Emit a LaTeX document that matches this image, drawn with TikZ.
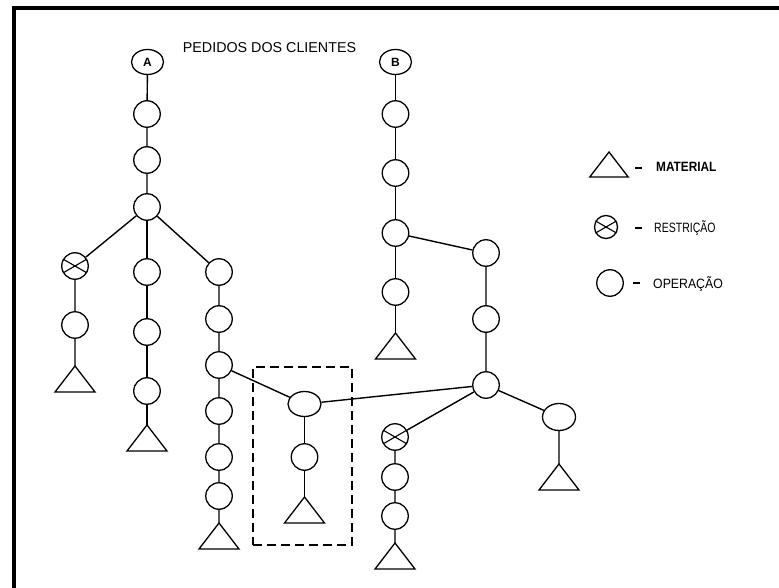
\documentclass[tikz,border=0pt]{standalone}
\usepackage{fontspec}
\setmainfont{Liberation Sans}
\usetikzlibrary{shapes.geometric}
\begin{document}
\begin{tikzpicture}[x=1pt,y=-1pt,
  link/.style={line width=1.4pt},
  op/.style={circle,draw,line width=1.3pt,minimum size=26.5pt,inner sep=0pt},
  opwide/.style={ellipse,draw,line width=1.3pt,minimum width=33pt,minimum height=25pt,inner sep=0pt},
  order/.style={ellipse,draw,line width=1.3pt,minimum width=32pt,minimum height=25pt,inner sep=0pt,
    font=\fontsize{12}{14}\selectfont\bfseries},
  legtext/.style={anchor=west,inner sep=0pt},
  legdash/.style={line width=2.6pt},
  material/.pic={\draw[line width=1.3pt,line join=miter] (0,0) -- (-20,26) -- (20,26) -- cycle;},
]
\useasboundingbox (0,0) rectangle (779,588);
% frame (top and left edges only)
\fill (12,6) rectangle (779,10);
\fill (12,6) rectangle (16,588);

% title
\node[font=\fontsize{14.3}{16}\selectfont,inner sep=0pt] (title) at (269.5,48) {PEDIDOS DOS CLIENTES};

% ---------- order A ----------
\node[order] (A) at (147.5,62) {A};
\node[op] (a1) at (147,114) {};
\node[op] (a2) at (147,160) {};
\node[op] (a3) at (147,207) {};
% left branch
\node[op] (ra) at (75,266) {};
\node[op] (a4) at (75,325) {};
\coordinate (ta1) at (75,366);
% middle branch
\node[op] (a5) at (147,272) {};
\node[op] (a6) at (147,332) {};
\node[op] (a7) at (147,391) {};
\coordinate (ta2) at (147,425);
% right branch
\node[op] (a8) at (219,272) {};
\node[op] (a9) at (219,319) {};
\node[op] (a10) at (219,365) {};
\node[op] (a11) at (219,411) {};
\node[op] (a12) at (219,457) {};
\node[op] (a13) at (219,496) {};
\coordinate (ta3) at (219,523);

% shared part inside the dashed box
\node[draw,line width=2pt,dash pattern=on 9pt off 5pt,minimum width=99pt,minimum height=178pt,inner sep=0pt]
  (grp) at (302.5,456) {};
\node[opwide] (e1) at (304.5,404) {};
\node[op] (c1) at (304.5,457) {};
\coordinate (tc) at (304.5,497);

% ---------- order B ----------
\node[order] (B) at (395.5,62) {B};
\node[op] (b1) at (395.5,114) {};
\node[op] (b2) at (395.5,173) {};
\node[op] (b3) at (395.5,233) {};
\node[op] (b4) at (395.5,292) {};
\coordinate (tb1) at (395.5,333);
\node[op] (b5) at (486,253) {};
\node[op] (b6) at (486,319) {};
\node[op] (j) at (486,385) {};
\node[op] (rb) at (395,437) {};
\node[op] (b7) at (395,477) {};
\node[op] (b8) at (395,516) {};
\coordinate (tb2) at (395,543);
\node[opwide,minimum height=27pt] (e2) at (559,417) {};
\coordinate (tb3) at (559,464);

% ---------- legend ----------
\coordinate (tl) at (609,152);
\draw[legdash] (635,168) -- (642,168);
\node[legtext,font=\fontsize{13.5}{15}\selectfont\bfseries] (lmat) at (656,167)
  {\scalebox{0.875}[1]{MATERIAL}};
\node[op,minimum size=23pt] (rl) at (606,227) {};
\draw[legdash] (635,228) -- (642,228);
\node[legtext,font=\fontsize{13.5}{15}\selectfont] (lres) at (654,228)
  {\scalebox{0.78}[1]{RESTRIÇÃO}};
\node[op] (ol) at (610,283) {};
\draw[legdash] (633,283) -- (640,283);
\node[legtext,font=\fontsize{13.5}{15}\selectfont] (lop) at (653,284.5)
  {\scalebox{0.91}[1]{OPERAÇÃO}};

% materials
\foreach \t in {ta1,ta2,ta3,tc,tb1,tb2,tb3}
  \pic at (\t) {material};
\pic[scale=0.96] at (tl) {material};

% restriction crosses
\foreach \n in {ra,rb,rl}
  \draw[line width=1.1pt] (\n.150) -- (\n.-30) (\n.210) -- (\n.30);

% connectors
\draw[link] (A) -- (a1) -- (a2) -- (a3);
\draw[link] (a3) -- (ra) -- (a4) -- (ta1);
\draw[link] (a3) -- (a5) -- (a6) -- (a7) -- (ta2);
\draw[link] (a3) -- (a8) -- (a9) -- (a10) -- (a11) -- (a12) -- (a13) -- (ta3);
\draw[link] (a10) -- (e1);
\draw[link] (e1) -- (c1) -- (tc);
\draw[link] (e1) -- (j);
\draw[link] (B) -- (b1) -- (b2) -- (b3) -- (b4) -- (tb1);
\draw[link] (b3) -- (b5) -- (b6) -- (j);
\draw[link] (j) -- (rb) -- (b7) -- (b8) -- (tb2);
\draw[link] (j) -- (e2) -- (tb3);
\end{tikzpicture}
\end{document}
